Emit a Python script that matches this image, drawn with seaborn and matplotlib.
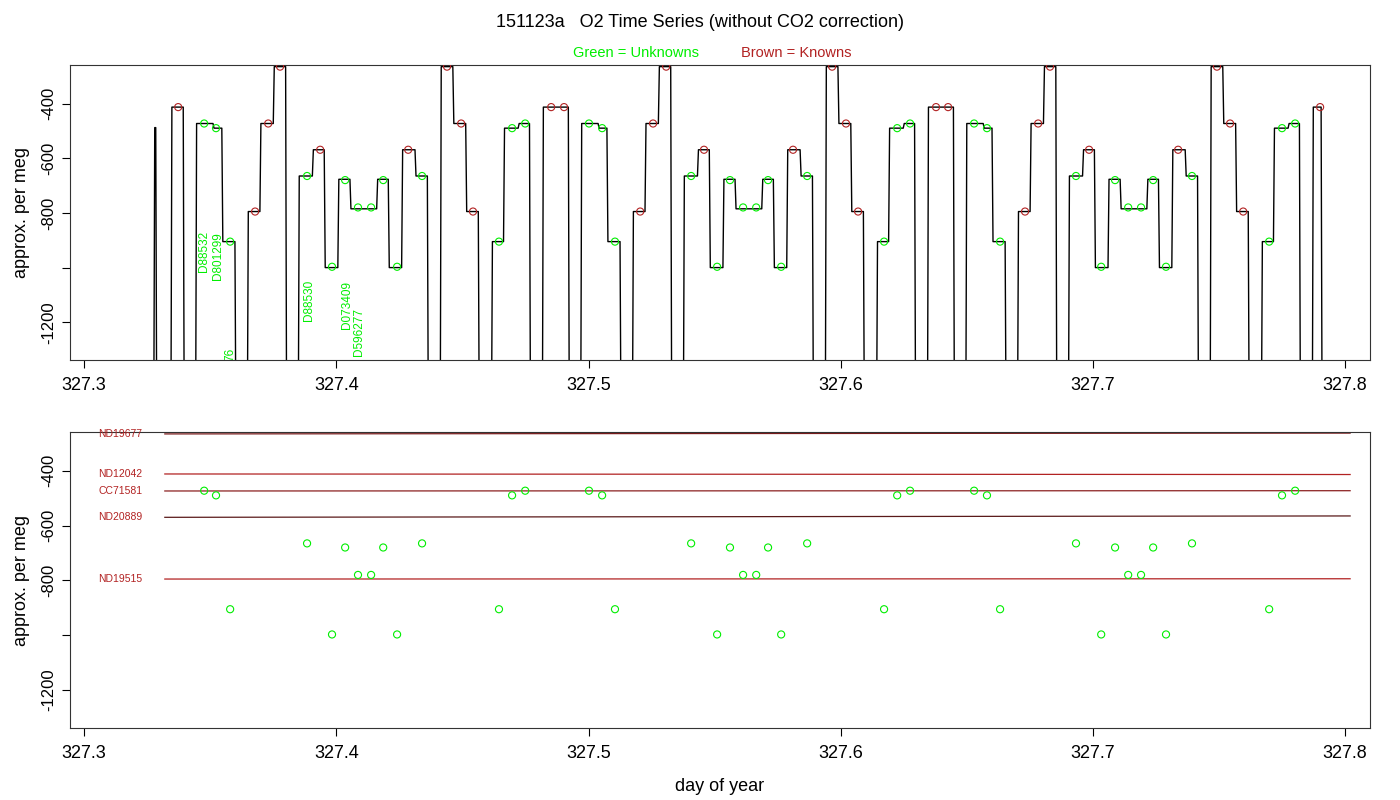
import numpy as np
import pandas as pd
import matplotlib
matplotlib.use("Agg")
import matplotlib.pyplot as plt
import seaborn as sns

plt.rcParams["font.family"] = "Liberation Sans"

# plateau runs ("jets") of the O2 trace: start day, then level and end day of each step
jet_start = [327.3280, 327.3348, 327.3446, 327.3651, 327.3853,
             327.4416, 327.4619, 327.4821, 327.4973, 327.5178, 327.5380,
             327.5943, 327.6146, 327.6348, 327.6500, 327.6705, 327.6907,
             327.7469, 327.7672, 327.7874]
jet_levels = [[-488], [-413], [-473, -490, -905], [-795, -473, -265],
              [-665, -569, -1000, -677, -785, -677, -1000, -569, -665],
              [-265, -473, -795], [-905, -490, -473], [-413], [-473, -490, -905], [-795, -473, -265],
              [-665, -569, -1000, -677, -785, -677, -1000, -569, -665],
              [-265, -473, -795], [-905, -490, -473], [-413], [-473, -490, -905], [-795, -473, -265],
              [-665, -569, -1000, -677, -785, -677, -1000, -569, -665],
              [-265, -473, -795], [-905, -490, -473], [-413]]
jet_ends = [[327.3284], [327.3393], [327.3511, 327.3546, 327.3598], [327.3697, 327.3750, 327.3799],
            [327.3905, 327.3952, 327.4006, 327.4054, 327.4160, 327.4206, 327.4259, 327.4312, 327.4361],
            [327.4462, 327.4513, 327.4563], [327.4663, 327.4721, 327.4766], [327.4920],
            [327.5038, 327.5073, 327.5125], [327.5224, 327.5277, 327.5326],
            [327.5432, 327.5479, 327.5533, 327.5581, 327.5687, 327.5733, 327.5786, 327.5839, 327.5888],
            [327.5989, 327.6040, 327.6090], [327.6190, 327.6248, 327.6293], [327.6447],
            [327.6565, 327.6600, 327.6652], [327.6751, 327.6804, 327.6853],
            [327.6959, 327.7006, 327.7060, 327.7108, 327.7214, 327.7260, 327.7313, 327.7366, 327.7415],
            [327.7515, 327.7566, 327.7616], [327.7716, 327.7774, 327.7819], [327.7905]]

# unknown (green) sample means
unk_day = [327.3476, 327.3523, 327.3579, 327.3884, 327.3983, 327.4035, 327.4086, 327.4138, 327.4186,
           327.4241, 327.4340, 327.4645, 327.4697, 327.4749, 327.5002, 327.5054, 327.5105, 327.5407,
           327.5510, 327.5561, 327.5613, 327.5665, 327.5712, 327.5764, 327.5867, 327.6172, 327.6224,
           327.6275, 327.6529, 327.6580, 327.6632, 327.6933, 327.7033, 327.7088, 327.7140, 327.7191,
           327.7239, 327.7290, 327.7393, 327.7699, 327.7750, 327.7802]
unk_val = [-473, -490, -905, -665, -997, -680, -780, -780, -680, -997, -665,
           -905, -490, -473, -473, -490, -905,
           -665, -997, -680, -780, -780, -680, -997, -665,
           -905, -490, -473, -473, -490, -905,
           -665, -997, -680, -780, -780, -680, -997, -665,
           -905, -490, -473]

# known (brown) reference means
known_day = [327.3373, 327.3678, 327.3730, 327.3777, 327.3936, 327.4285,
             327.4439, 327.4495, 327.4542, 327.4852, 327.4903, 327.5205, 327.5256, 327.5308, 327.5458, 327.5811,
             327.5966, 327.6021, 327.6069, 327.6378, 327.6426, 327.6731, 327.6783, 327.6830, 327.6985, 327.7338,
             327.7492, 327.7544, 327.7596, 327.7901]
known_val = [-413, -795, -473, -265, -569, -569,
             -265, -473, -795, -413, -413, -795, -473, -265, -569, -569,
             -265, -473, -795, -413, -413, -795, -473, -265, -569, -569,
             -265, -473, -795, -413]

# fitted known-tank lines (bottom panel)
std_names = ["ND19677", "ND12042", "CC71581", "ND20889", "ND19515"]
std_start = [-266, -412, -474, -570, -795]
std_end = [-263, -414, -473, -565, -794]
std_colors = ["#7a1a1a", "#B22222", "#8B2020", "#5a1a1a", "#B22222"]
std_span = [327.3320, 327.8020]

# sample labels on the top panel (day, bottom value)
lab_text = ["D88532", "D801299", "76", "D88530", "D073409", "D596277"]
lab_day = [327.3476, 327.3532, 327.3580, 327.3890, 327.4042, 327.4090]
lab_val = [-1015, -1045, -1340, -1195, -1225, -1325]

GREEN = "#00ee00"
BROWN = "#B22222"
LOW = -1600

# build the trace
xs, ys = [], []
for s, lv, en in zip(jet_start, jet_levels, jet_ends):
    xs += [s - 0.0004, s]
    ys += [LOW, lv[0]]
    for i, (l, e) in enumerate(zip(lv, en)):
        if i > 0:
            xs.append(en[i - 1] + 0.0004)
            ys.append(l)
        xs.append(e)
        ys.append(l)
    xs.append(en[-1] + 0.0004)
    ys.append(LOW)
    xs.append(np.nan)
    ys.append(np.nan)
trace = pd.DataFrame({"day": xs, "val": ys})

fig = plt.figure(figsize=(14, 8), dpi=100)
ax1 = fig.add_axes([0.05, 0.55, 0.9286, 0.36875])
ax2 = fig.add_axes([0.05, 0.09, 0.9286, 0.37])

ax1.plot(trace.day, trace.val, color="black", lw=1.0)
sns.scatterplot(x=unk_day, y=unk_val, ax=ax1, s=26, marker="o", facecolors="none",
                edgecolor=GREEN, linewidth=0.8, zorder=3)
sns.scatterplot(x=known_day, y=known_val, ax=ax1, s=26, marker="o", facecolors="none",
                edgecolor=BROWN, linewidth=0.8, zorder=3)
for t, d, v in zip(lab_text, lab_day, lab_val):
    ax1.text(d, v, t, rotation=90, color=GREEN, fontsize=8.5, ha="center", va="bottom", clip_on=True)

for n, a, b, c in zip(std_names, std_start, std_end, std_colors):
    sns.lineplot(x=std_span, y=[a, b], ax=ax2, color=c, lw=0.9)
    ax2.text(327.3057, a, n, color=BROWN, fontsize=7.5, ha="left", va="center")
sns.scatterplot(x=unk_day, y=unk_val, ax=ax2, s=26, marker="o", facecolors="none",
                edgecolor=GREEN, linewidth=0.8, zorder=3)

for ax in (ax1, ax2):
    ax.set_xlim(327.2944, 327.8099)
    ax.set_ylim(-1338, -259)
    ax.set_xticks([327.3, 327.4, 327.5, 327.6, 327.7, 327.8])
    ax.set_yticks([-400, -600, -800, -1000, -1200])
    ax.set_yticklabels(["-400", "-600", "-800", "", "-1200"], rotation=90, va="center")
    ax.tick_params(axis="x", labelsize=13, length=6, direction="out", pad=6)
    ax.tick_params(axis="y", labelsize=12, length=6, direction="out", pad=4)
    ax.set_ylabel("approx. per meg", fontsize=13, labelpad=8)
    for sp in ax.spines.values():
        sp.set_color("#333333")
        sp.set_linewidth(0.8)

ax2.set_xlabel("day of year", fontsize=13, labelpad=12)
fig.text(0.5, 0.972, "151123a   O2 Time Series (without CO2 correction)", ha="center", va="center", fontsize=13)
fig.text(0.454, 0.934, "Green = Unknowns", ha="center", va="center", fontsize=10.5, color=GREEN)
fig.text(0.569, 0.934, "Brown = Knowns", ha="center", va="center", fontsize=10.5, color=BROWN)

fig.savefig("out.png", dpi=100)
